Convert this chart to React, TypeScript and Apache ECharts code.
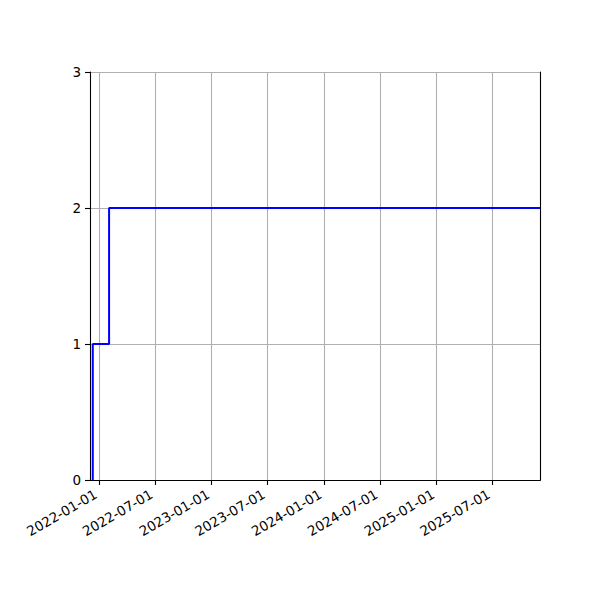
import React, { useEffect, useRef } from "react";
import * as echarts from "echarts";

// Step series: cumulative count over time
const stepDates = ["2021-12-11", "2021-12-11", "2022-02-02", "2025-12-03"];
const stepValues = [0, 1, 2, 2];

// Axis range
const xMinDate = "2021-12-02";
const xMaxDate = "2025-12-03";

// X tick labels
const xTickLabels = [
  "2022-01-01",
  "2022-07-01",
  "2023-01-01",
  "2023-07-01",
  "2024-01-01",
  "2024-07-01",
  "2025-01-01",
  "2025-07-01",
];

const yTicks = [0, 1, 2, 3];

const toTs = (s: string) => {
  const [y, m, d] = s.split("-").map(Number);
  return Date.UTC(y, m - 1, d);
};

const fmt = (v: number) => {
  const d = new Date(v);
  const p = (n: number) => String(n).padStart(2, "0");
  return `${d.getUTCFullYear()}-${p(d.getUTCMonth() + 1)}-${p(d.getUTCDate())}`;
};

export default function App() {
  const ref = useRef<HTMLDivElement>(null);
  useEffect(() => {
    document.body.style.margin = "0";
    if (!ref.current) return;
    const chart = echarts.init(ref.current, undefined, { renderer: "svg" });
    const tickTs = xTickLabels.map(toTs);
    const font = "DejaVu Sans";
    const spine = { show: true, lineStyle: { color: "#000", width: 1.1 } };
    chart.setOption({
      animation: false,
      backgroundColor: "#ffffff",
      grid: {
        left: 90,
        right: 60,
        top: 72,
        bottom: 120,
        show: false,
      },
      xAxis: [
        {
          type: "value",
          min: toTs(xMinDate),
          max: toTs(xMaxDate),
          axisLine: spine,
          axisTick: {
            show: true,
            length: 5,
            customValues: tickTs,
            lineStyle: { color: "#000", width: 1.1 },
          },
          axisLabel: {
            customValues: tickTs,
            rotate: 30,
            margin: 19,
            verticalAlign: "bottom",
            color: "#000",
            fontFamily: font,
            fontSize: 13.5,
            formatter: (v: number) => fmt(v),
          },
          splitLine: { show: true, lineStyle: { color: "#b0b0b0", width: 1.1 } },
        },
        {
          type: "value",
          position: "top",
          min: toTs(xMinDate),
          max: toTs(xMaxDate),
          axisLine: spine,
          axisTick: { show: false },
          axisLabel: { show: false },
          splitLine: { show: false },
        },
      ],
      yAxis: [
        {
          type: "value",
          min: 0,
          max: 3,
          interval: 1,
          axisLine: spine,
          axisTick: {
            show: true,
            length: 5,
            lineStyle: { color: "#000", width: 1.1 },
          },
          axisLabel: {
            margin: 9,
            color: "#000",
            fontFamily: font,
            fontSize: 13.5,
            formatter: (v: number) => (yTicks.includes(v) ? String(v) : ""),
          },
          splitLine: { show: true, lineStyle: { color: "#b0b0b0", width: 1.1 } },
        },
        {
          type: "value",
          position: "right",
          min: 0,
          max: 3,
          interval: 1,
          axisLine: spine,
          axisTick: { show: false },
          axisLabel: { show: false },
          splitLine: { show: false },
        },
      ],
      series: [
        {
          type: "line",
          step: "end",
          showSymbol: false,
          symbol: "none",
          xAxisIndex: 0,
          yAxisIndex: 0,
          data: stepDates.map((d, i) => [toTs(d), stepValues[i]]),
          lineStyle: { color: "#0000ff", width: 2 },
          z: 5,
        },
      ],
    });
    return () => chart.dispose();
  }, []);
  return <div ref={ref} style={{ width: 600, height: 600 }} />;
}
